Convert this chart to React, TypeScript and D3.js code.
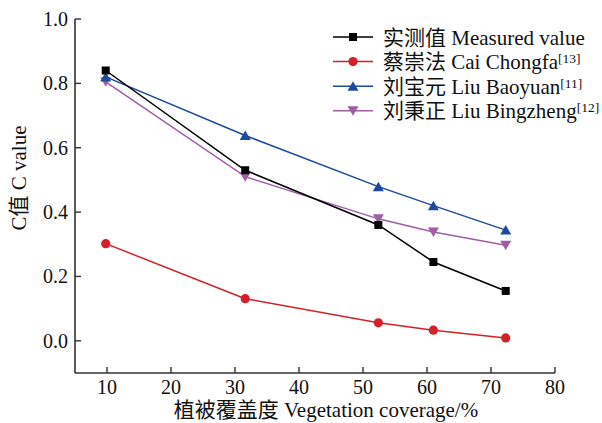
import React from "react";
import * as d3 from "d3";

const coverage = [9.8, 31.6, 52.4, 61.0, 72.3];
const measured = [0.84, 0.53, 0.36, 0.245, 0.155];
const caiChongfa = [0.302, 0.131, 0.056, 0.033, 0.009];
const liuBaoyuan = [0.82, 0.638, 0.479, 0.42, 0.344];
const liuBingzheng = [0.805, 0.51, 0.379, 0.338, 0.297];
const xTicks = [10, 20, 30, 40, 50, 60, 70, 80];
const yTicks = [0.0, 0.2, 0.4, 0.6, 0.8, 1.0];

const seriesNames = ["实测值 Measured value", "蔡崇法 Cai Chongfa", "刘宝元 Liu Baoyuan", "刘秉正 Liu Bingzheng"];
const seriesRefs = ["", "[13]", "[11]", "[12]"];
const seriesValues = [measured, caiChongfa, liuBaoyuan, liuBingzheng];
const seriesColors = ["#000000", "#d42027", "#1c4a9c", "#9e5fa5"];
const seriesMarkers = ["square", "circle", "triangle", "triangleDown"];

const W = 602;
const H = 423;
const FONT = '"Liberation Serif", "DejaVu Serif", "Noto Sans CJK SC", serif';
const TXT: React.CSSProperties = { fontFamily: FONT };

function Marker({ type, cx, cy, color }: { type: string; cx: number; cy: number; color: string }) {
  if (type === "square") {
    return <rect x={cx - 4} y={cy - 4} width={8} height={8} fill={color} />;
  }
  if (type === "circle") {
    return <circle cx={cx} cy={cy} r={4.6} fill={color} />;
  }
  if (type === "triangle") {
    const p = `${cx - 5.5},${cy + 4.5} ${cx + 5.5},${cy + 4.5} ${cx},${cy - 5}`;
    return <polygon points={p} fill={color} />;
  }
  const p = `${cx - 5.5},${cy - 4.5} ${cx + 5.5},${cy - 4.5} ${cx},${cy + 5}`;
  return <polygon points={p} fill={color} />;
}

export default function App() {
  const x = d3.scaleLinear().domain([5, 80]).range([75, 555]);
  const y = d3.scaleLinear().domain([-0.1, 1.0]).range([373, 19]);
  const line = d3
    .line<number>()
    .x((_, i) => x(coverage[i]))
    .y((d) => y(d));

  const axisColor = "#333";
  const order = [3, 2, 1, 0];

  return (
    <svg width={W} height={H} style={{ display: "block", position: "absolute", left: 0, top: 0, fontFamily: FONT }}>
      <rect width={W} height={H} fill="#fff" />
      <line x1={x(5)} x2={x(5)} y1={y(1.0)} y2={y(-0.1)} stroke={axisColor} strokeWidth={1.6} />
      <line x1={x(5)} x2={x(80)} y1={y(-0.1)} y2={y(-0.1)} stroke={axisColor} strokeWidth={1.6} />
      {yTicks.map((t) => (
        <g key={"y" + t}>
          <line x1={x(5)} x2={x(5) + 6} y1={y(t)} y2={y(t)} stroke={axisColor} strokeWidth={1.4} />
          <text x={68} y={y(t)} dy="0.35em" textAnchor="end" fontSize={20} fill="#111" style={TXT}>
            {d3.format(".1f")(t)}
          </text>
        </g>
      ))}
      {xTicks.map((t) => (
        <g key={"x" + t}>
          <line x1={x(t)} x2={x(t)} y1={y(-0.1)} y2={y(-0.1) - 6} stroke={axisColor} strokeWidth={1.4} />
          <text x={x(t)} y={393.5} textAnchor="middle" fontSize={20} fill="#111" style={TXT}>
            {t}
          </text>
        </g>
      ))}
      <text x={326} y={417} textAnchor="middle" fontSize={21} fill="#111" style={TXT}>
        植被覆盖度 Vegetation coverage/%
      </text>
      <text transform={`translate(26,178) rotate(-90)`} textAnchor="middle" fontSize={21} fill="#111" style={TXT}>
        C值 C value
      </text>
      {order.map((s) => (
        <g key={"s" + s}>
          <path d={line(seriesValues[s]) || ""} fill="none" stroke={seriesColors[s]} strokeWidth={1.5} />
          {seriesValues[s].map((v, i) => (
            <Marker key={i} type={seriesMarkers[s]} cx={x(coverage[i])} cy={y(v)} color={seriesColors[s]} />
          ))}
        </g>
      ))}
      {seriesNames.map((name, i) => {
        const ly = 37 + i * 24.6;
        return (
          <g key={"l" + i}>
            <line x1={333} x2={373} y1={ly} y2={ly} stroke={seriesColors[i]} strokeWidth={1.5} />
            <Marker type={seriesMarkers[i]} cx={353} cy={ly} color={seriesColors[i]} />
            <text x={383} y={ly} dy="0.36em" fontSize={21} fill="#111" style={TXT}>
              {name}
              {seriesRefs[i] && (
                <tspan fontSize={13.5} dy={-6}>
                  {seriesRefs[i]}
                </tspan>
              )}
            </text>
          </g>
        );
      })}
    </svg>
  );
}
